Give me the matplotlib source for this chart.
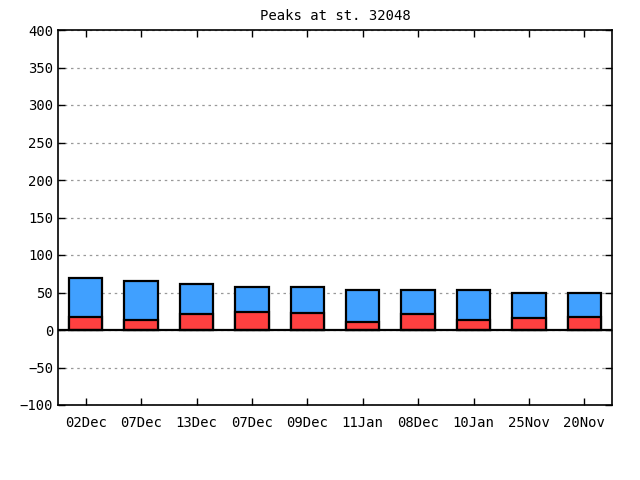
import numpy as np
import matplotlib
matplotlib.use("Agg")
import matplotlib.pyplot as plt

labels = ['02Dec', '07Dec', '13Dec', '07Dec', '09Dec', '11Jan', '08Dec', '10Jan', '25Nov', '20Nov']
total = [70, 66, 61, 58, 58, 54, 54, 53, 50, 49]
low = [18, 14, 21, 24, 23, 11, 22, 13, 16, 18]

plt.rcParams['font.family'] = 'DejaVu Sans Mono'
plt.rcParams['font.size'] = 10

fig = plt.figure(figsize=(6.4, 4.8), dpi=100)
ax = fig.add_axes([58 / 640, 1 - 405 / 480, 554 / 640, 375 / 480])

x = np.arange(len(labels))
ax.bar(x, total, width=0.6, color='#40a0ff', edgecolor='black', linewidth=1.6, zorder=3)
ax.bar(x, low, width=0.6, color='#ff4040', edgecolor='black', linewidth=1.6, zorder=4)
ax.axhline(0, color='black', linewidth=1.6, zorder=5)

ax.set_xlim(-0.5, len(labels) - 0.5)
ax.set_ylim(-100, 400)
ax.set_yticks(np.arange(-100, 401, 50))
ax.set_xticks(x)
ax.set_xticklabels(labels)
ax.yaxis.grid(True, linestyle=(0, (2, 3)), color='#999999', linewidth=0.9, zorder=0)
ax.tick_params(direction='in', length=5, width=1, right=True, top=True, labelsize=10)
ax.tick_params(axis='x', pad=8)
for s in ax.spines.values():
    s.set_linewidth(1.2)

ax.set_title('Peaks at st. 32048', fontsize=10, pad=7)

fig.savefig('out.png', dpi=100)
